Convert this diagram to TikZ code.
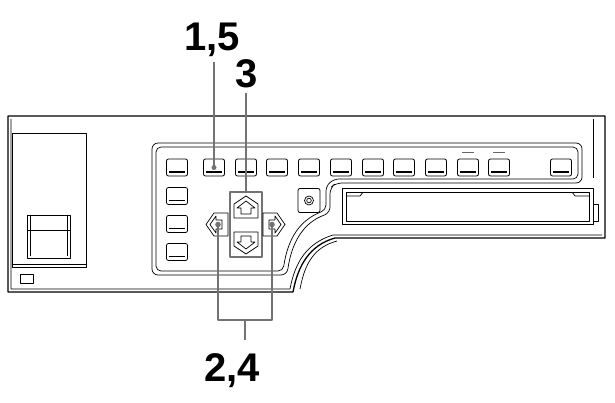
\documentclass[tikz,border=0pt]{standalone}
\usepackage{fontspec}
\setmainfont{Liberation Sans}
\begin{document}
\begin{tikzpicture}[x=1pt,y=-1pt,line join=round,
  body/.style={draw=black,line width=1.3pt},
  thin/.style={draw=black,line width=0.7pt},
  btn/.style={draw=black,line width=0.8pt,rounded corners=2pt,minimum width=21pt,minimum height=17pt,inner sep=0pt},
  callout/.style={draw=black!55,line width=1.4pt},
  lbl/.style={font=\bfseries\fontsize{40}{40}\selectfont,inner sep=0pt}]
\useasboundingbox (0,0) rectangle (615,403);
% outer body
\draw[body] (8,116) -- (605,116) -- (605,238) -- (335,238) .. controls (310,245) and (298,265) .. (293,292) -- (8,292) -- cycle;
\draw[thin] (11,119) -- (11,289) -- (290,289) .. controls (295,262) and (307,243) .. (333,235) -- (602,235);
\draw[thin] (593,119) -- (593,178);
% inner panel
\draw[thin,rounded corners=6pt] (152,275) -- (152,143) -- (582,143) -- (582,183) -- (336,183) -- (330,188) -- (330,213) .. controls (305,222) and (292,240) .. (287,275) -- cycle;
\draw[thin,rounded corners=5pt] (156,271) -- (156,147) -- (578,147) -- (578,179) -- (334,179) -- (326,186) -- (326,210) .. controls (300,220) and (288,238) .. (283,271) -- cycle;
\draw[thin] (300,289) .. controls (305,262) and (315,247) .. (337,241);
% slot
\draw[thin] (342,188) rectangle (593,224);
\draw[thin] (346,192) rectangle (589,221);
\draw[thin] (346,196) -- (360,196) -- (363,192);
\draw[thin] (589,196) -- (575,196) -- (572,192);
\draw[thin] (593,204) rectangle (598,221);
% left compartment
\draw[thin] (12,133) rectangle (86,267);
\draw[thin] (12,264) -- (86,264);
\draw[thin] (27,215) rectangle (70,258);
\draw[thin] (27,230) -- (70,230);
\draw[thin] (30,215) -- (30,256); \draw[thin] (67,215) -- (67,256);
\draw[thin] (20,274) rectangle (33,283);
% top row buttons
\foreach \n/\x in {a/177,b/214,c/246,d/277,e/309,f/341,g/373,h/404,i/436,j/468,k/499,l/561}{
  \node[btn] (t\n) at (\x,167.5) {};
  \draw[line width=1.2pt] (\x-8,172) -- (\x+8,172);
}
\draw[line width=1pt,black!60] (462,153) -- (474,153);
\draw[line width=1pt,black!60] (493,153) -- (505,153);
% left column
\foreach \n/\y in {a/196,b/224,c/252}{
  \node[btn] (l\n) at (177,\y) {};
  \draw[line width=1.2pt] (169,\y+4.5) -- (185,\y+4.5);
}
% round button
\node[btn,minimum width=22pt,minimum height=24pt] (rb) at (309,200.5) {};
\draw[thin] (309,200.5) circle (4.5pt) circle (2.3pt);
% up/down box
\node[draw=black!55,line width=1.4pt,minimum width=32pt,minimum height=65pt,inner sep=0pt] (ud) at (246,224.5) {};
\draw[thin] (234,218) -- (234,204) -- (246,196) -- (258,204) -- (258,218) -- cycle;
\draw[thin] (241,214) -- (241,208) -- (237,208) -- (246,201) -- (255,208) -- (251,208) -- (251,214) -- cycle;
\draw[thin] (234,232) -- (234,246) -- (246,254) -- (258,246) -- (258,232) -- cycle;
\draw[thin] (241,236) -- (241,242) -- (237,242) -- (246,249) -- (255,242) -- (251,242) -- (251,236) -- cycle;
% left / right
\draw[thin] (228,213) -- (214,213) -- (206,224.5) -- (214,236) -- (228,236) -- cycle;
\draw[thin] (222,220) -- (216,220) -- (216,216) -- (210,224.5) -- (216,233) -- (216,229) -- (222,229) -- cycle;
\draw[thin] (263,213) -- (277,213) -- (285,224.5) -- (277,236) -- (263,236) -- cycle;
\draw[thin] (269,220) -- (275,220) -- (275,216) -- (281,224.5) -- (275,233) -- (275,229) -- (269,229) -- cycle;
\coordinate (lb) at (218,224.5);
\coordinate (rbt) at (272,224.5);
% callouts
\node[lbl] (n15) at (212,40) {1,5};
\node[lbl] (n3) at (247,74) {3};
\node[lbl] (n24) at (232,371) {2,4};
\draw[callout] (214,62) -- (tb.center);
\fill[black!55] (tb.center) circle (2.5pt);
\draw[callout] (246,93) -- (ud.north);
\fill[black!55] (lb) circle (2.8pt);
\fill[black!55] (rbt) circle (2.8pt);
\draw[callout] (lb) -- (218,320) -- (272,320) -- (rbt);
\coordinate (mid) at (245,320);
\draw[callout] (mid) -- (245,340);
\end{tikzpicture}
\end{document}
